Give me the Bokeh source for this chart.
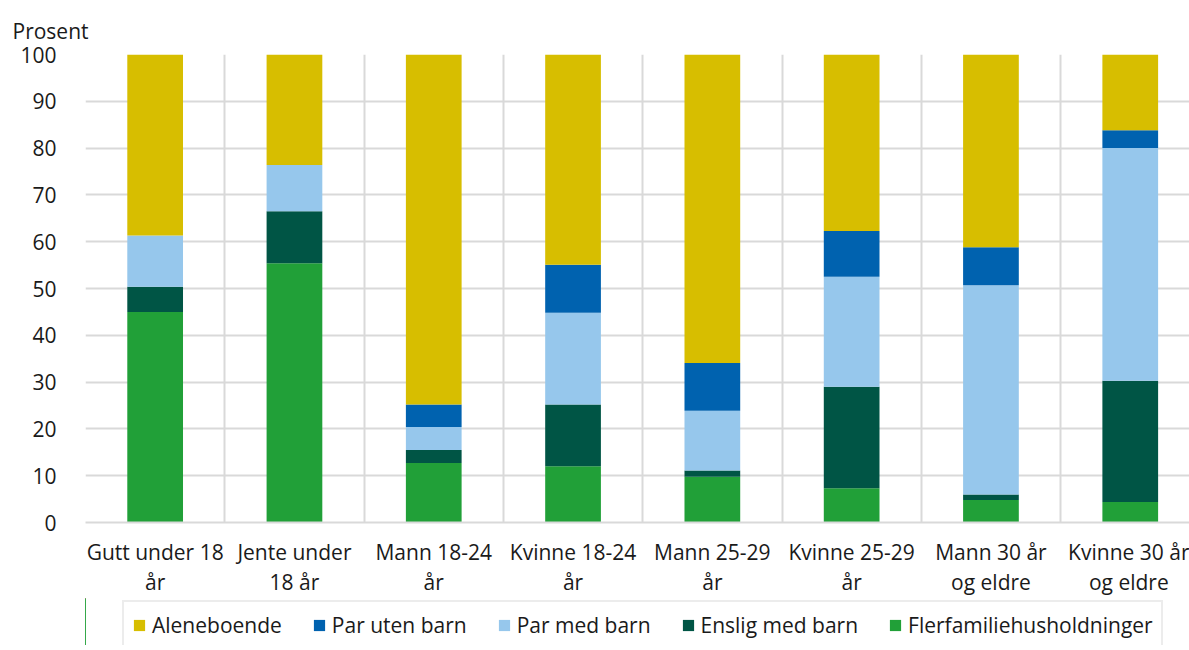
from bokeh.plotting import figure
from bokeh.layouts import column
from bokeh.models import (Range1d, FixedTicker, Grid, Legend, LegendItem, ColumnDataSource)
from bokeh.embed import file_html
from bokeh.resources import INLINE

categories = ["Gutt under 18\når", "Jente under\n18 år", "Mann 18-24\når", "Kvinne 18-24\når",
              "Mann 25-29\når", "Kvinne 25-29\når", "Mann 30 år\nog eldre", "Kvinne 30 år\nog eldre"]
flerfamilie = [45.0, 55.4, 12.7, 12.0, 9.8, 7.3, 4.8, 4.4]
enslig_med_barn = [5.4, 11.1, 2.8, 13.2, 1.3, 21.7, 1.2, 25.9]
par_med_barn = [10.9, 9.9, 4.9, 19.6, 12.8, 23.5, 44.7, 49.7]
par_uten_barn = [0.0, 0.0, 4.8, 10.3, 10.2, 9.8, 8.1, 3.8]
aleneboende = [38.7, 23.6, 74.8, 44.9, 65.9, 37.7, 41.2, 16.2]
y_ticks = [0, 10, 20, 30, 40, 50, 60, 70, 80, 90, 100]

series_names = ["Flerfamiliehusholdninger", "Enslig med barn", "Par med barn", "Par uten barn", "Aleneboende"]
series_vals = [flerfamilie, enslig_med_barn, par_med_barn, par_uten_barn, aleneboende]
colors = ["#21A038", "#005545", "#96C7EC", "#0062AF", "#D7BE00"]

FONT = "Open Sans"
TXT = "#1a1a1a"
xs = [i + 0.5 for i in range(len(categories))]
data = {"x": xs}
keys = ["s%d" % i for i in range(len(series_names))]
for k, v in zip(keys, series_vals):
    data[k] = v
src = ColumnDataSource(data)

p = figure(width=1189, height=603, frame_width=1104, frame_height=468,
           output_backend="svg", toolbar_location=None,
           x_range=Range1d(0, 1104 / 139.3), y_range=Range1d(0, 100),
           min_border_left=85, min_border_top=54, min_border_right=0, min_border_bottom=0,
           title="Prosent")
p.outline_line_color = None
p.title.text_font = FONT
p.title.text_font_size = "21px"
p.title.text_font_style = "normal"
p.title.text_color = TXT
p.title.align = "left"
p.title.offset = -73
p.title.vertical_align = "top"
p.title.standoff = 16

p.vbar_stack(keys, x="x", width=0.4, source=src, color=colors, line_color=None)

# axes
p.xaxis.ticker = FixedTicker(ticks=xs)
p.xaxis.major_label_overrides = {x: c for x, c in zip(xs, categories)}
p.xaxis.major_tick_line_color = None
p.xaxis.minor_tick_line_color = None
p.xaxis.axis_line_color = "#D9D9D9"
p.xaxis.axis_line_width = 2
p.xaxis.major_label_text_font = FONT
p.xaxis.major_label_text_font_size = "21px"
p.xaxis.major_label_text_color = TXT
p.xaxis.major_label_text_line_height = 1.08
p.xaxis.major_label_standoff = 9

p.yaxis.ticker = FixedTicker(ticks=y_ticks)
p.yaxis.major_tick_line_color = None
p.yaxis.minor_tick_line_color = None
p.yaxis.axis_line_color = None
p.yaxis.major_label_text_font = FONT
p.yaxis.major_label_text_font_size = "21px"
p.yaxis.major_label_text_color = TXT
p.yaxis.major_label_standoff = 23

p.xgrid.visible = False
p.ygrid.grid_line_color = "#D9D9D9"
p.ygrid.grid_line_width = 2
p.ygrid.ticker = FixedTicker(ticks=y_ticks)
vgrid = Grid(dimension=0, ticker=FixedTicker(ticks=list(range(len(categories)))),
             grid_line_color="#D9D9D9", grid_line_width=2)
p.add_layout(vgrid)

# legend strip (second figure directly below the chart); its stacked bars lie outside its view
p2 = figure(width=1189, height=47, output_backend="svg", toolbar_location=None,
            x_axis_type=None, y_axis_type=None, x_range=Range1d(100, 101), y_range=Range1d(0, 1),
            min_border_left=0, min_border_right=0, min_border_top=0, min_border_bottom=0)
p2.outline_line_color = None
p2.grid.visible = False
legend_renderers = p2.vbar_stack(keys, x="x", width=0.4, source=src, color=colors, line_color=None)

order = [4, 3, 2, 1, 0]
items = [LegendItem(label=series_names[i], renderers=[legend_renderers[i]]) for i in order]
legend = Legend(items=items, orientation="horizontal", nrows=1, location=(37, -5),
                glyph_width=14, glyph_height=14, label_standoff=6, spacing=30,
                padding=8, margin=0, border_line_color="#D9D9D9", border_line_width=2,
                background_fill_alpha=0,
                label_text_font=FONT, label_text_font_size="21px", label_text_color=TXT,
                label_height=30)
p2.add_layout(legend)

layout = column(p, p2, spacing=0)
open("out.html", "w").write(file_html(layout, INLINE))
